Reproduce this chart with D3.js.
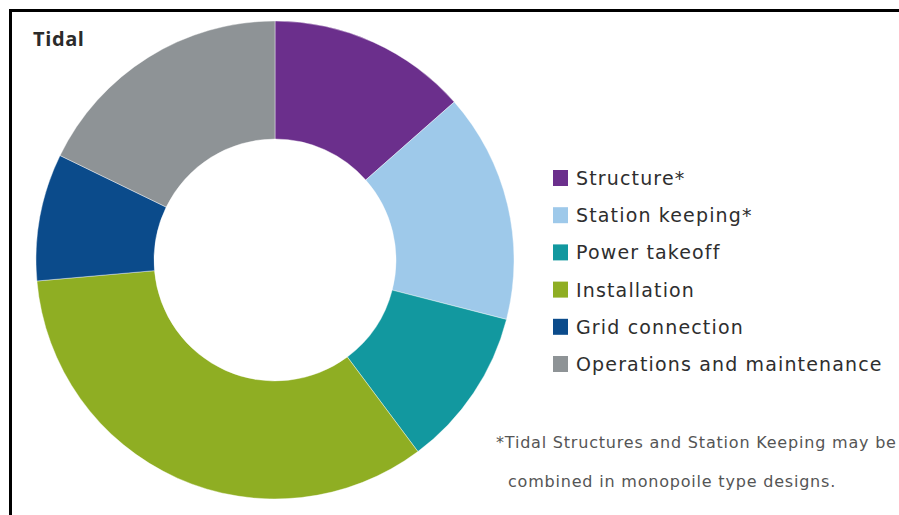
<!DOCTYPE html>
<html>
<head>
<meta charset="utf-8">
<script src="https://cdn.jsdelivr.net/npm/d3@7"></script>
<style>
  html, body { margin: 0; padding: 0; background: #fff; }
  svg { display: block; }
</style>
</head>
<body>
<svg id="chart" width="899" height="515"></svg>
<script>
// Tidal energy cost breakdown (share of total, %)
const categories = ["Structure*", "Station keeping*", "Power takeoff", "Installation", "Grid connection", "Operations and maintenance"];
const shares = [13.5, 15.5, 10.8, 33.8, 8.6, 17.8];
const colors = ["#6b2f8c", "#9ec9ea", "#12989f", "#8fae23", "#0b4b8b", "#8e9396"];
const title = "Tidal";
const footnote = ["*Tidal Structures and Station Keeping may be", "combined in monopoile type designs."];

const svg = d3.select("#chart");
const W = 899, H = 515;

// frame (top and left rules)
svg.append("line").attr("x1", 9).attr("x2", W).attr("y1", 10.5).attr("y2", 10.5)
  .attr("stroke", "#000").attr("stroke-width", 3);
svg.append("line").attr("x1", 10.5).attr("x2", 10.5).attr("y1", 9).attr("y2", H)
  .attr("stroke", "#000").attr("stroke-width", 3);

svg.append("text").attr("x", 33).attr("y", 46)
  .attr("font-family", "'Open Sans', sans-serif").attr("font-weight", 700)
  .attr("font-size", 20).attr("letter-spacing", 0.6).attr("fill", "#2b2b2b").text(title);

// donut
const cx = 275, cy = 260, rOuter = 239, rInner = 121;
const data = categories.map((c, i) => ({ name: c, value: shares[i], color: colors[i] }));
const pie = d3.pie().value(d => d.value).sort(null).startAngle(0).endAngle(2 * Math.PI);
const arc = d3.arc().innerRadius(rInner).outerRadius(rOuter);

svg.append("g").attr("transform", `translate(${cx},${cy})`)
  .selectAll("path").data(pie(data)).join("path")
  .attr("d", arc)
  .attr("fill", d => d.data.color)
  .attr("stroke", "#ffffff").attr("stroke-opacity", 0.5).attr("stroke-width", 0.8);

// legend
const legendY = d3.scalePoint().domain(categories).range([178, 364]);
const lg = svg.append("g");
const rows = lg.selectAll("g").data(data).join("g")
  .attr("transform", d => `translate(553,${legendY(d.name)})`);
rows.append("rect").attr("x", 0).attr("y", -8).attr("width", 15).attr("height", 16)
  .attr("fill", d => d.color);
rows.append("text").attr("x", 23).attr("y", 7)
  .attr("font-family", "'DejaVu Sans', sans-serif").attr("font-size", 19)
  .attr("fill", "#2e2e2e").attr("letter-spacing", 1.15)
  .text(d => d.name);

// footnote
const fn = svg.append("g")
  .attr("font-family", "'DejaVu Sans', sans-serif").attr("font-size", 16)
  .attr("letter-spacing", 0.8).attr("fill", "#555");
fn.append("text").attr("x", 496).attr("y", 448).text(footnote[0]);
fn.append("text").attr("x", 508).attr("y", 487).text(footnote[1]);
</script>
</body>
</html>
